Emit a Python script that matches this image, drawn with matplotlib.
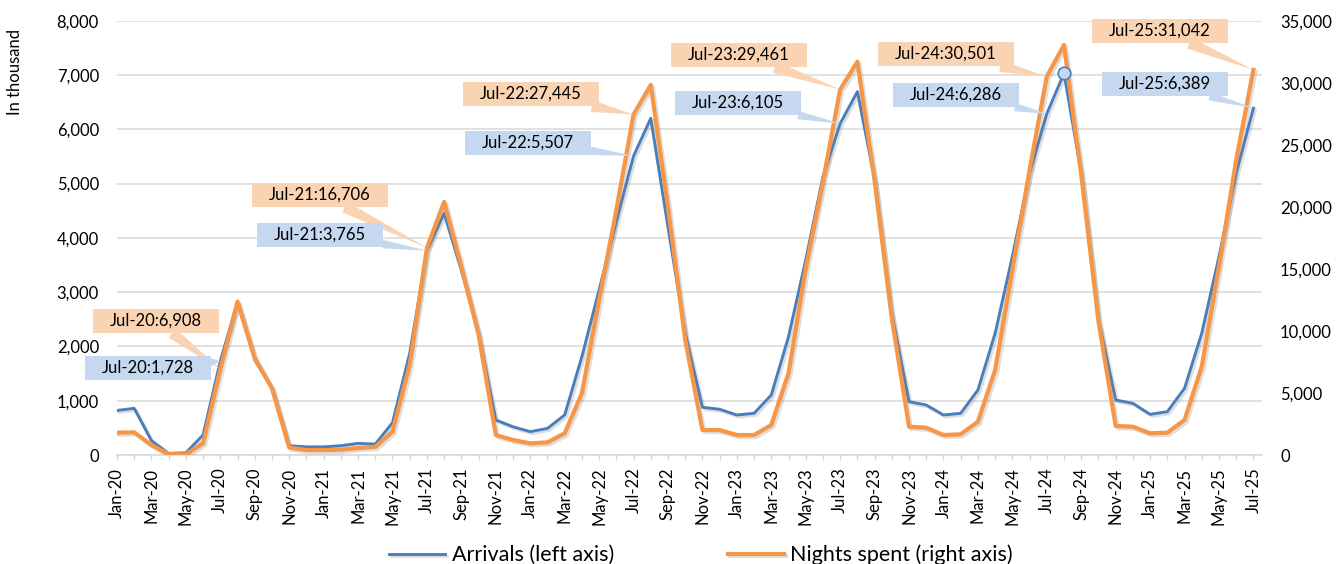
import matplotlib
matplotlib.use("Agg")
import matplotlib.pyplot as plt
import matplotlib.patheffects as pe
from matplotlib.path import Path
from matplotlib.ticker import FuncFormatter, MultipleLocator
import pandas as pd

# monthly categories Jan-20 .. Jul-25
months = pd.date_range("2020-01-01", "2025-07-01", freq="MS").strftime("%b-%y").tolist()

# arrivals, in thousand (left axis)
arrivals = [820, 860, 265, 30, 40, 370, 1728, 2820, 1750, 1230, 170, 150,
            150, 170, 215, 200, 595, 1873, 3765, 4452, 3400, 2240, 645, 520,
            430, 490, 737, 1811, 3040, 4300, 5507, 6202, 4200, 2242, 879, 842,
            737, 768, 1105, 2179, 3590, 5127, 6105, 6692, 5080, 2600, 982, 921,
            737, 768, 1197, 2242, 3653, 5189, 6286, 7031, 5200, 2500, 1013, 952,
            749, 798, 1228, 2242, 3653, 5189, 6389]

# nights spent, in thousand (right axis)
nights = [1800, 1830, 800, 70, 60, 940, 6908, 12360, 7800, 5380, 600, 400,
          400, 420, 560, 650, 1880, 7250, 16706, 20400, 15180, 9700, 1610, 1210,
          940, 1020, 1750, 4970, 12500, 19750, 27445, 29820, 20000, 9270, 2015, 2015,
          1610, 1610, 2420, 6590, 15000, 22030, 29461, 31700, 22100, 11000, 2280, 2200,
          1610, 1670, 2690, 6850, 14900, 22970, 30501, 33050, 22600, 10800, 2340, 2280,
          1750, 1800, 2820, 7120, 15180, 23780, 31042]

label_idx = [6, 18, 30, 42, 54, 66]     # July of each year gets a callout
marker_idx = 55                         # highlighted point on arrivals

# callout box centres, figure pixels
orange_pos = [(156, 243), (320, 369), (531, 470), (739, 509), (946, 510), (1160, 533)]
blue_pos = [(148, 196), (320, 329), (528, 421), (738, 461), (956, 469), (1165, 480)]

BLUE = "#4A7EBB"
ORANGE = "#F79646"
BLUE_BOX = "#C5D8EF"
ORANGE_BOX = "#FAD3B3"
GRID = "#D9D9D9"

plt.rcParams["font.family"] = ["Lato", "DejaVu Sans"]

W, H = 1343, 564
fig = plt.figure(figsize=(W / 100, H / 100), dpi=100)
ax1 = fig.add_axes([117 / W, 109 / H, 1145 / W, 434.3 / H])
ax2 = ax1.twinx()

x = list(range(len(months)))
shadow = [pe.SimpleLineShadow(offset=(1.5, -1.5), shadow_color="#7f7f7f", alpha=0.25), pe.Normal()]

l1, = ax1.plot(x, arrivals, color=BLUE, lw=2.1, path_effects=shadow, label="Arrivals (left axis)")
l2, = ax2.plot(x, nights, color=ORANGE, lw=3.0, path_effects=shadow, label="Nights spent (right axis)")
ax2.plot(marker_idx, arrivals[marker_idx], "o", ms=9, mfc=BLUE_BOX, mec=BLUE, mew=1.2,
         transform=ax1.transData)

ax1.set_xlim(0, 66.5)
ax1.set_ylim(0, 8000)
ax2.set_ylim(0, 35000)

fmt = FuncFormatter(lambda v, p: f"{v:,.0f}")
ax1.yaxis.set_major_locator(MultipleLocator(1000))
ax2.yaxis.set_major_locator(MultipleLocator(5000))
ax1.yaxis.set_major_formatter(fmt)
ax2.yaxis.set_major_formatter(fmt)

ax1.set_xticks(x[::2])
ax1.set_xticklabels(months[::2], rotation=90)
ax1.set_xticks(x, minor=True)
ax1.tick_params(axis="x", which="both", length=3.6, width=1, color=GRID, pad=5.5,
                labelsize=12, labelcolor="black")
ax1.tick_params(axis="y", length=0, pad=13, labelsize=12, labelcolor="black")
ax2.tick_params(axis="y", length=0, pad=13, labelsize=12, labelcolor="black")

ax1.grid(axis="y", color=GRID, lw=1.1)
ax1.set_axisbelow(True)
for s in ["top", "left", "right"]:
    ax1.spines[s].set_visible(False)
for s in ["top", "left", "right", "bottom"]:
    ax2.spines[s].set_visible(False)
ax1.spines["bottom"].set_color(GRID)
ax1.spines["bottom"].set_linewidth(1.1)

fig.text(15 / W, 1 - 72 / H, "In thousand", rotation=90, ha="center", va="center", fontsize=12)


def wide_box(x0, y0, width, height, mutation_size):
    px, py = 1.0 * mutation_size, 0.25 * mutation_size
    x0, y0 = x0 - px, y0 - py
    x1, y1 = x0 + width + 2 * px, y0 + height + 2 * py
    return Path([(x0, y0), (x1, y0), (x1, y1), (x0, y1), (x0, y0)], closed=True)


for k, i in enumerate(label_idx):
    ax2.annotate(f"{months[i]}:{nights[i]:,}", xy=(i, nights[i]), xycoords=ax2.transData,
                 xytext=orange_pos[k], textcoords="figure pixels", ha="center", va="center",
                 fontsize=12, color="black",
                 bbox=dict(boxstyle=wide_box, fc=ORANGE_BOX, ec="none"),
                 arrowprops=dict(arrowstyle="wedge,tail_width=0.7", fc=ORANGE_BOX, ec="none",
                                 shrinkA=0, shrinkB=0))
    ax2.annotate(f"{months[i]}:{arrivals[i]:,}", xy=(i, arrivals[i]), xycoords=ax1.transData,
                 xytext=blue_pos[k], textcoords="figure pixels", ha="center", va="center",
                 fontsize=12, color="black",
                 bbox=dict(boxstyle=wide_box, fc=BLUE_BOX, ec="none"),
                 arrowprops=dict(arrowstyle="wedge,tail_width=0.5", fc=BLUE_BOX, ec="none",
                                 shrinkA=0, shrinkB=0))

fig.legend([l1, l2], [l1.get_label(), l2.get_label()], loc="center",
           bbox_to_anchor=(701 / W, 9 / H), ncol=2, frameon=False, fontsize=15.5,
           handlelength=2.6, handletextpad=0.3, columnspacing=5.3)

fig.savefig("out.png", dpi=100)
